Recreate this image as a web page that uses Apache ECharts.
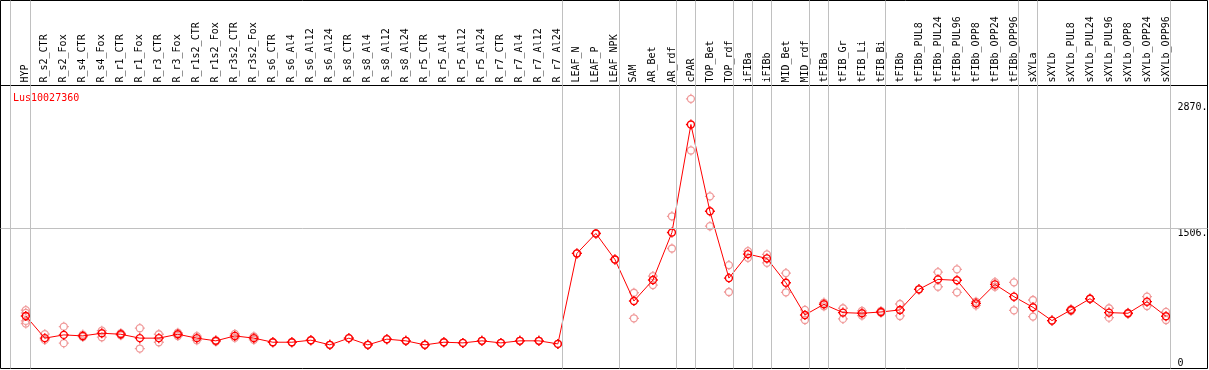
<!DOCTYPE html>
<html><head><meta charset="utf-8">
<script src="https://cdn.jsdelivr.net/npm/echarts@6/dist/echarts.min.js"></script>
<style>html,body{margin:0;padding:0;background:#fff}#c{width:1209px;height:370px}</style>
</head><body><div id="c"></div>
<script>
const chartTitle = 'Lus10027360';
const categories = ['HYP','R_s2_CTR','R_s2_Fox','R_s4_CTR','R_s4_Fox','R_r1_CTR','R_r1_Fox','R_r3_CTR','R_r3_Fox','R_r1s2_CTR','R_r1s2_Fox','R_r3s2_CTR','R_r3s2_Fox','R_s6_CTR','R_s6_Al4','R_s6_Al12','R_s6_Al24','R_s8_CTR','R_s8_Al4','R_s8_Al12','R_s8_Al24','R_r5_CTR','R_r5_Al4','R_r5_Al12','R_r5_Al24','R_r7_CTR','R_r7_Al4','R_r7_Al12','R_r7_Al24','LEAF_N','LEAF_P','LEAF_NPK','SAM','AR_Bet','AR_rdf','cPAR','TOP_Bet','TOP_rdf','iFIBa','iFIBb','MID_Bet','MID_rdf','tFIBa','tFIB_Gr','tFIB_Li','tFIB_Bi','tFIBb','tFIBb_PUL8','tFIBb_PUL24','tFIBb_PUL96','tFIBb_OPP8','tFIBb_OPP24','tFIBb_OPP96','sXYLa','sXYLb','sXYLb_PUL8','sXYLb_PUL24','sXYLb_PUL96','sXYLb_OPP8','sXYLb_OPP24','sXYLb_OPP96'];
const meanValues = [566,327,362,351,380,369,327,327,369,327,298,351,327,283,283,305,255,327,255,316,298,255,283,276,298,276,298,298,265,1240,1455,1175,727,953,1465,2629,1694,974,1232,1186,924,577,692,602,595,609,631,853,960,950,702,906,774,659,516,631,752,602,595,720,563];
const repHigh = [628,370,451,365,408,380,434,369,385,348,305,372,345,283,283,305,255,327,255,316,298,255,283,276,298,276,298,298,265,1240,1455,1175,816,996,1640,2905,1855,1114,1264,1229,1028,631,710,649,620,620,695,853,1039,1068,720,931,928,738,516,640,752,649,600,774,609];
const repLow = [485,308,273,340,337,358,215,283,350,305,290,330,310,283,283,305,255,327,255,316,298,255,283,276,298,276,298,298,265,1240,1455,1175,541,899,1293,2349,1533,824,1192,1139,821,523,670,534,570,600,566,853,881,821,680,880,627,559,516,620,752,548,590,674,523];
const repExtraCats = ['HYP','HYP'];
const repExtraValues = [599,513];
const groupEnds = ['HYP','R_r7_Al24','LEAF_NPK','AR_rdf','cPAR','TOP_rdf','iFIBa','iFIBb','MID_rdf','tFIBa','tFIB_Bi','tFIBb_OPP96','sXYLa','sXYLb_OPP96'];
const yTickLabels = [1506, 2870];
const yZeroLabel = [0];
const yGridValues = [1506];

const X_MIN = -1.331, X_MAX = 62.184, Y_MAX = 3049;
const SEP_OFFSET = 0.25, LEAD_SEP = -0.82;
const FONT = 'DejaVu Sans Mono';
const RED = '#ff0000', PINK = '#f09a9a', GRID_GRAY = '#c0c0c0';
const SYMBOL = 'path://M8.5,5A3.5,3.5,0,1,1,1.5,5A3.5,3.5,0,1,1,8.5,5ZM5,0L5,1.5M5,8.5L5,10M0,5L1.5,5M8.5,5L10,5';

const sepValues = [LEAD_SEP].concat(groupEnds.map(n => categories.indexOf(n) + SEP_OFFSET));
const sepMarks = sepValues.map(v => ({xAxis: v}));

const meanData = meanValues.map((v, i) => [i, v]);
const repData = [];
repHigh.forEach((v, i) => repData.push([i, v]));
repLow.forEach((v, i) => repData.push([i, v]));
repExtraCats.forEach((c, k) => repData.push([categories.indexOf(c), repExtraValues[k]]));

const chart = echarts.init(document.getElementById('c'), null, {renderer: 'canvas'});
const markLineBase = {silent: true, symbol: ['none','none'], label: {show: false}, animation: false,
  lineStyle: {color: GRID_GRAY, width: 1, type: 'solid'}, emphasis: {disabled: true}};

chart.setOption({
  animation: false,
  backgroundColor: '#fff',
  title: {text: chartTitle, left: 8, top: 88, textStyle: {color: RED, fontSize: 10, fontFamily: FONT, fontWeight: 'normal'}},
  grid: [
    {left: 0.5, right: 1.5, top: 0.5, height: 85, show: true, borderColor: '#000', borderWidth: 1, containLabel: false, outerBoundsMode: 'none'},
    {left: 0.5, right: 1.5, top: 85.5, bottom: 1.5, show: true, borderColor: '#000', borderWidth: 1, containLabel: false, outerBoundsMode: 'none'}
  ],
  xAxis: [
    {gridIndex: 0, type: 'value', min: X_MIN, max: X_MAX, position: 'bottom',
      axisLine: {show: true, lineStyle: {color: '#000', width: 1}}, axisTick: {show: false}, splitLine: {show: false},
      axisLabel: {inside: true, rotate: 90, margin: 3, customValues: categories.map((_, i) => i),
        formatter: v => categories[Math.round(v)], fontFamily: FONT, fontSize: 10, color: '#000'}},
    {gridIndex: 1, type: 'value', min: X_MIN, max: X_MAX, show: false, splitLine: {show: false}}
  ],
  yAxis: [
    {gridIndex: 0, type: 'value', min: 0, max: 1, show: false, splitLine: {show: false}},
    {gridIndex: 1, type: 'value', min: 0, max: Y_MAX, position: 'right',
      axisLine: {show: false}, axisTick: {show: false}, splitLine: {show: false},
      axisLabel: {customValues: yTickLabels, formatter: v => v + '.', margin: -30, align: 'left', verticalAlign: 'top',
        fontFamily: FONT, fontSize: 10, color: '#000'}},
    {gridIndex: 1, type: 'value', min: 0, max: Y_MAX, position: 'right',
      axisLine: {show: false}, axisTick: {show: false}, splitLine: {show: false},
      axisLabel: {customValues: yZeroLabel, formatter: v => String(v), margin: -30, align: 'left', verticalAlign: 'bottom',
        fontFamily: FONT, fontSize: 10, color: '#000'}}
  ],
  series: [
    {type: 'line', xAxisIndex: 0, yAxisIndex: 0, data: [], z: 1,
      markLine: Object.assign({}, markLineBase, {data: sepMarks})},
    {type: 'line', xAxisIndex: 1, yAxisIndex: 1, data: [], z: 1,
      markLine: Object.assign({}, markLineBase, {data: sepMarks.concat(yGridValues.map(v => ({yAxis: v})))})},
    {type: 'scatter', xAxisIndex: 1, yAxisIndex: 1, data: repData, z: 3, silent: true,
      symbol: SYMBOL, symbolSize: 10,
      itemStyle: {color: 'rgba(0,0,0,0)', borderColor: PINK, borderWidth: 1.3, opacity: 1}},
    {type: 'line', xAxisIndex: 1, yAxisIndex: 1, data: meanData, z: 4, silent: true,
      symbol: SYMBOL, symbolSize: 10, showSymbol: true, showAllSymbol: true,
      lineStyle: {color: RED, width: 1},
      itemStyle: {color: 'rgba(0,0,0,0)', borderColor: RED, borderWidth: 1.4}}
  ]
});
</script></body></html>
